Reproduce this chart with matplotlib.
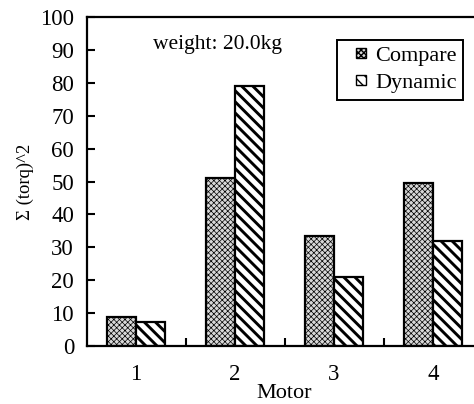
import matplotlib
matplotlib.use("Agg")
import matplotlib.pyplot as plt
from matplotlib.patches import Rectangle
from matplotlib.legend_handler import HandlerPatch
import numpy as np

motors = [1, 2, 3, 4]
compare = [8.8, 51, 33.5, 49.6]
dynamic = [7.3, 79, 21, 32]
yticks = list(range(0, 101, 10))

plt.rcParams['font.family'] = ['Liberation Serif', 'DejaVu Serif']

fig = plt.figure(figsize=(4.74, 4.04), dpi=100)
ax = fig.add_axes([86.5/474, 1 - 346/404, 396/474, (346-17)/404])

x = np.array(motors, dtype=float)
w = 0.29
with plt.rc_context({'hatch.linewidth': 0.5}):
    b1 = ax.bar(x - w/2, compare, w, facecolor='#d8d8d8', edgecolor='black',
                linewidth=1.6, hatch='xxxxxx', label='Compare')
with plt.rc_context({'hatch.linewidth': 2.1}):
    b2 = ax.bar(x + w/2, dynamic, w, facecolor='white', edgecolor='black',
                linewidth=1.6, hatch='\\\\\\', label='Dynamic')

ax.set_xlim(0.5, 4.5)
ax.set_ylim(0, 100)
ax.set_yticks(yticks)
ax.set_xticks(motors)
ax.set_xticks([1.5, 2.5, 3.5], minor=True)
ax.tick_params(axis='y', direction='in', length=6, width=1.5, labelsize=16.5, pad=9, right=False)
ax.tick_params(axis='x', which='major', length=0, labelsize=16.5, pad=13)
ax.tick_params(axis='x', which='minor', direction='in', length=6, width=1.5)
for s in ax.spines.values():
    s.set_linewidth(1.6)

ax.set_xlabel('Motor', fontsize=16, labelpad=-1)
ax.set_ylabel('Σ (torq)^2', fontsize=13.5, labelpad=4)

ax.text(0.33, 0.915, 'weight: 20.0kg', transform=ax.transAxes, fontsize=15.5,
        ha='center', va='center')


def small_box(legend, orig_handle, xdescent, ydescent, width, height, fontsize):
    s = 7.5
    return Rectangle((width - s - xdescent, (height - s) / 2 - ydescent), s, s)


leg = ax.legend(loc='upper right', bbox_to_anchor=(0.951, 0.930), fontsize=16,
                fancybox=False, framealpha=1, edgecolor='black',
                handlelength=1.0, handleheight=0.5, handletextpad=0.4,
                borderpad=0.3, labelspacing=0.35, borderaxespad=0,
                handler_map={b1.patches[0].__class__: HandlerPatch(patch_func=small_box)},
                handles=[b1.patches[0], b2.patches[0]], labels=['Compare', 'Dynamic'])
for h in leg.legend_handles:
    h.set_linewidth(1.0)
leg.get_frame().set_linewidth(1.4)

fig.savefig('out.png', dpi=100)
